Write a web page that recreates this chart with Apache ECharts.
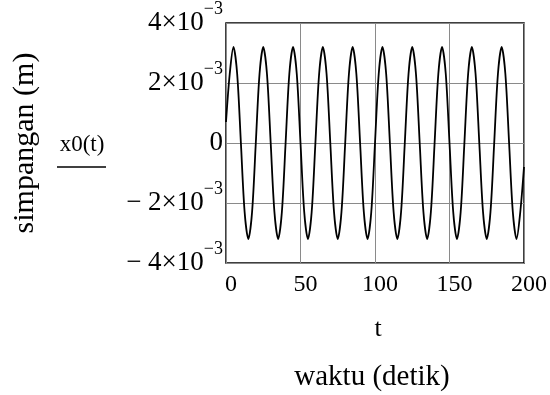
<!DOCTYPE html>
<html>
<head>
<meta charset="utf-8">
<script src="https://cdn.jsdelivr.net/npm/echarts@6/dist/echarts.min.js"></script>
<style>
  html, body { margin: 0; padding: 0; background: #fff; }
  #chart { width: 550px; height: 395px; }
</style>
</head>
<body>
<div id="chart"></div>
<script>
// waktu t (detik), sampled every 2.5 s
const tValues = [
  0, 2.5, 5, 7.5, 10, 12.5, 15, 17.5, 20, 22.5,
  25, 27.5, 30, 32.5, 35, 37.5, 40, 42.5, 45, 47.5,
  50, 52.5, 55, 57.5, 60, 62.5, 65, 67.5, 70, 72.5,
  75, 77.5, 80, 82.5, 85, 87.5, 90, 92.5, 95, 97.5,
  100, 102.5, 105, 107.5, 110, 112.5, 115, 117.5, 120, 122.5,
  125, 127.5, 130, 132.5, 135, 137.5, 140, 142.5, 145, 147.5,
  150, 152.5, 155, 157.5, 160, 162.5, 165, 167.5, 170, 172.5,
  175, 177.5, 180, 182.5, 185, 187.5, 190, 192.5, 195, 197.5,
  200
]
// simpangan x0(t) in metres
const x0Values = [
  0.0007, 0.0023, 0.0032, 0.0023, 0.0000, -0.0023, -0.0032, -0.0023, 0.0000, 0.0023,
  0.0032, 0.0023, 0.0000, -0.0023, -0.0032, -0.0023, 0.0000, 0.0023, 0.0032, 0.0023,
  0.0000, -0.0023, -0.0032, -0.0023, 0.0000, 0.0023, 0.0032, 0.0023, 0.0000, -0.0023,
  -0.0032, -0.0023, 0.0000, 0.0023, 0.0032, 0.0023, 0.0000, -0.0023, -0.0032, -0.0023,
  0.0000, 0.0023, 0.0032, 0.0023, 0.0000, -0.0023, -0.0032, -0.0023, 0.0000, 0.0023,
  0.0032, 0.0023, 0.0000, -0.0023, -0.0032, -0.0023, 0.0000, 0.0023, 0.0032, 0.0023,
  0.0000, -0.0023, -0.0032, -0.0023, 0.0000, 0.0023, 0.0032, 0.0023, 0.0000, -0.0023,
  -0.0032, -0.0023, 0.0000, 0.0023, 0.0032, 0.0023, 0.0000, -0.0023, -0.0032, -0.0023,
  -0.0008
]
const xTicks = [0, 50, 100, 150, 200]
const yTicks = [-0.004, -0.002, 0, 0.002, 0.004]

const serif = '"Liberation Serif", "DejaVu Serif", serif'

const chart = echarts.init(document.getElementById('chart'))

// teks biasa di luar plot
function label(text, x, y, size, rotation) {
  return {
    type: 'text',
    x,
    y,
    rotation: rotation || 0,
    style: {
      text,
      font: size + 'px ' + serif,
      fill: '#000',
      textAlign: 'center',
      textVerticalAlign: 'middle',
    },
  }
}

const option = {
  backgroundColor: '#fff',
  animation: false,
  grid: {
    left: 226,
    right: 25,
    top: 23,
    bottom: 132,
    show: true,
    borderColor: '#000',
    borderWidth: 1.5,
  },
  xAxis: {
    type: 'value',
    min: xTicks[0],
    max: xTicks[xTicks.length - 1],
    interval: xTicks[1] - xTicks[0],
    axisLine: { show: false },
    axisTick: { show: false },
    splitLine: { lineStyle: { color: '#8a8a8a', width: 1 } },
    axisLabel: {
      color: '#000',
      fontFamily: serif,
      fontSize: 24,
      margin: 10,
      padding: [0, 0, 0, 10],
    },
  },
  yAxis: {
    type: 'value',
    min: yTicks[0],
    max: yTicks[yTicks.length - 1],
    interval: yTicks[1] - yTicks[0],
    axisLine: { show: false },
    axisTick: { show: false },
    splitLine: { lineStyle: { color: '#8a8a8a', width: 1 } },
    axisLabel: {
      margin: 3,
      formatter: (v) => {
        const k = Math.round(v * 1000)
        if (k === 0) return '{m|0}'
        const sign = k < 0 ? '− ' : ''
        return `{m|${sign}${Math.abs(k)}×10}{s|−3}`
      },
      rich: {
        m: { color: '#000', fontFamily: serif, fontSize: 27, lineHeight: 30 },
        s: { color: '#000', fontFamily: serif, fontSize: 18, lineHeight: 18, padding: [0, 0, 28, 0] },
      },
    },
  },
  series: [
    {
      type: 'line',
      data: tValues.map((t, i) => [t, x0Values[i]]),
      showSymbol: false,
      smooth: 0.3,
      lineStyle: { color: '#000', width: 1.8 },
    },
  ],
  graphic: [
    label('simpangan (m)', 25, 143, 30, Math.PI / 2),
    label('x0(t)', 82, 145, 23),
    {
      type: 'line',
      shape: { x1: 57, y1: 167, x2: 106, y2: 167 },
      style: { stroke: '#000', lineWidth: 1.5 },
    },
    label('t', 378, 329, 26),
    label('waktu (detik)', 372, 377, 29),
  ],
}

chart.setOption(option)
</script>
</body>
</html>
